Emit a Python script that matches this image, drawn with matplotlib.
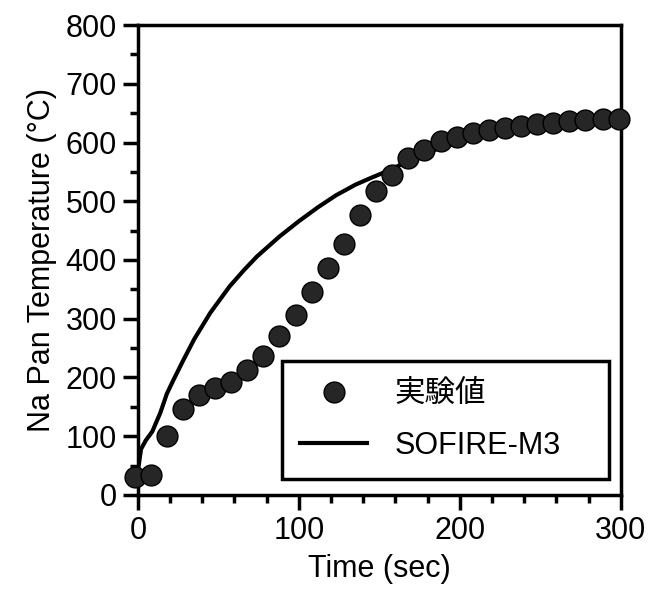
import matplotlib
matplotlib.use("Agg")
import matplotlib.pyplot as plt
from matplotlib.ticker import MultipleLocator

plt.rcParams['font.family'] = ['Liberation Sans', 'Noto Sans CJK JP', 'DejaVu Sans']

# measured points (sec, deg C)
exp_time = [-2, 8, 18, 28, 38, 48, 58, 68, 78, 88, 98, 108, 118, 128, 138, 148,
            158, 168, 178, 188, 198, 208, 218, 228, 238, 248, 258, 268, 278, 289, 299]
exp_temp = [31, 34, 100, 146, 170, 182, 193, 212, 236, 270, 306, 346, 387, 427, 476, 518,
            544, 574, 588, 602, 610, 616, 621, 625, 629, 631, 633, 636, 638, 640, 640]

# SOFIRE-M3 calculation
calc_time = [0, 2, 5, 9, 14, 18, 22, 28, 35, 45, 57, 66, 74, 88, 100, 112, 123, 135, 145, 152,
             160, 170, 180, 190, 200, 220, 240, 260, 280, 300]
calc_temp = [40, 78, 93, 108, 140, 172, 195, 228, 265, 310, 355, 383, 406, 440, 466, 490, 510, 528, 540, 548,
             558, 571, 583, 593, 602, 615, 624, 630, 635, 638]

fig = plt.figure(figsize=(6.69, 5.97), dpi=100)
ax = fig.add_axes([0.206, 0.171, 0.722, 0.787])

ax.plot(calc_time, calc_temp, color='black', lw=3, label='SOFIRE-M3', zorder=2)
ax.plot(exp_time, exp_temp, 'o', ms=15, mfc='#262626', mec='black', mew=1,
        label='実験値', clip_on=False, zorder=3)

ax.set_xlim(0, 300)
ax.set_ylim(0, 800)
ax.xaxis.set_major_locator(MultipleLocator(100))
ax.xaxis.set_minor_locator(MultipleLocator(20))
ax.yaxis.set_major_locator(MultipleLocator(100))
ax.yaxis.set_minor_locator(MultipleLocator(50))

for s in ax.spines.values():
    s.set_linewidth(2.5)
ax.tick_params(which='major', direction='out', length=11, width=2.5, labelsize=22, pad=4)
ax.tick_params(which='minor', direction='out', length=6, width=2.5)

ax.set_xlabel('Time (sec)', fontsize=22, labelpad=6)
ax.set_ylabel('Na Pan Temperature (°C)', fontsize=22, labelpad=6)

handles, labels = ax.get_legend_handles_labels()
leg = ax.legend(handles[::-1], labels[::-1], loc='lower left',
                bbox_to_anchor=(0.298, 0.034, 0.678, 0.265), mode='expand',
                fontsize=22, frameon=True, fancybox=False, framealpha=1,
                borderaxespad=0, handlelength=2.2, handletextpad=0.9,
                labelspacing=0.7, borderpad=0.6)
leg.get_frame().set_edgecolor('black')
leg.get_frame().set_linewidth(2.5)

fig.savefig('out.png', dpi=100)
